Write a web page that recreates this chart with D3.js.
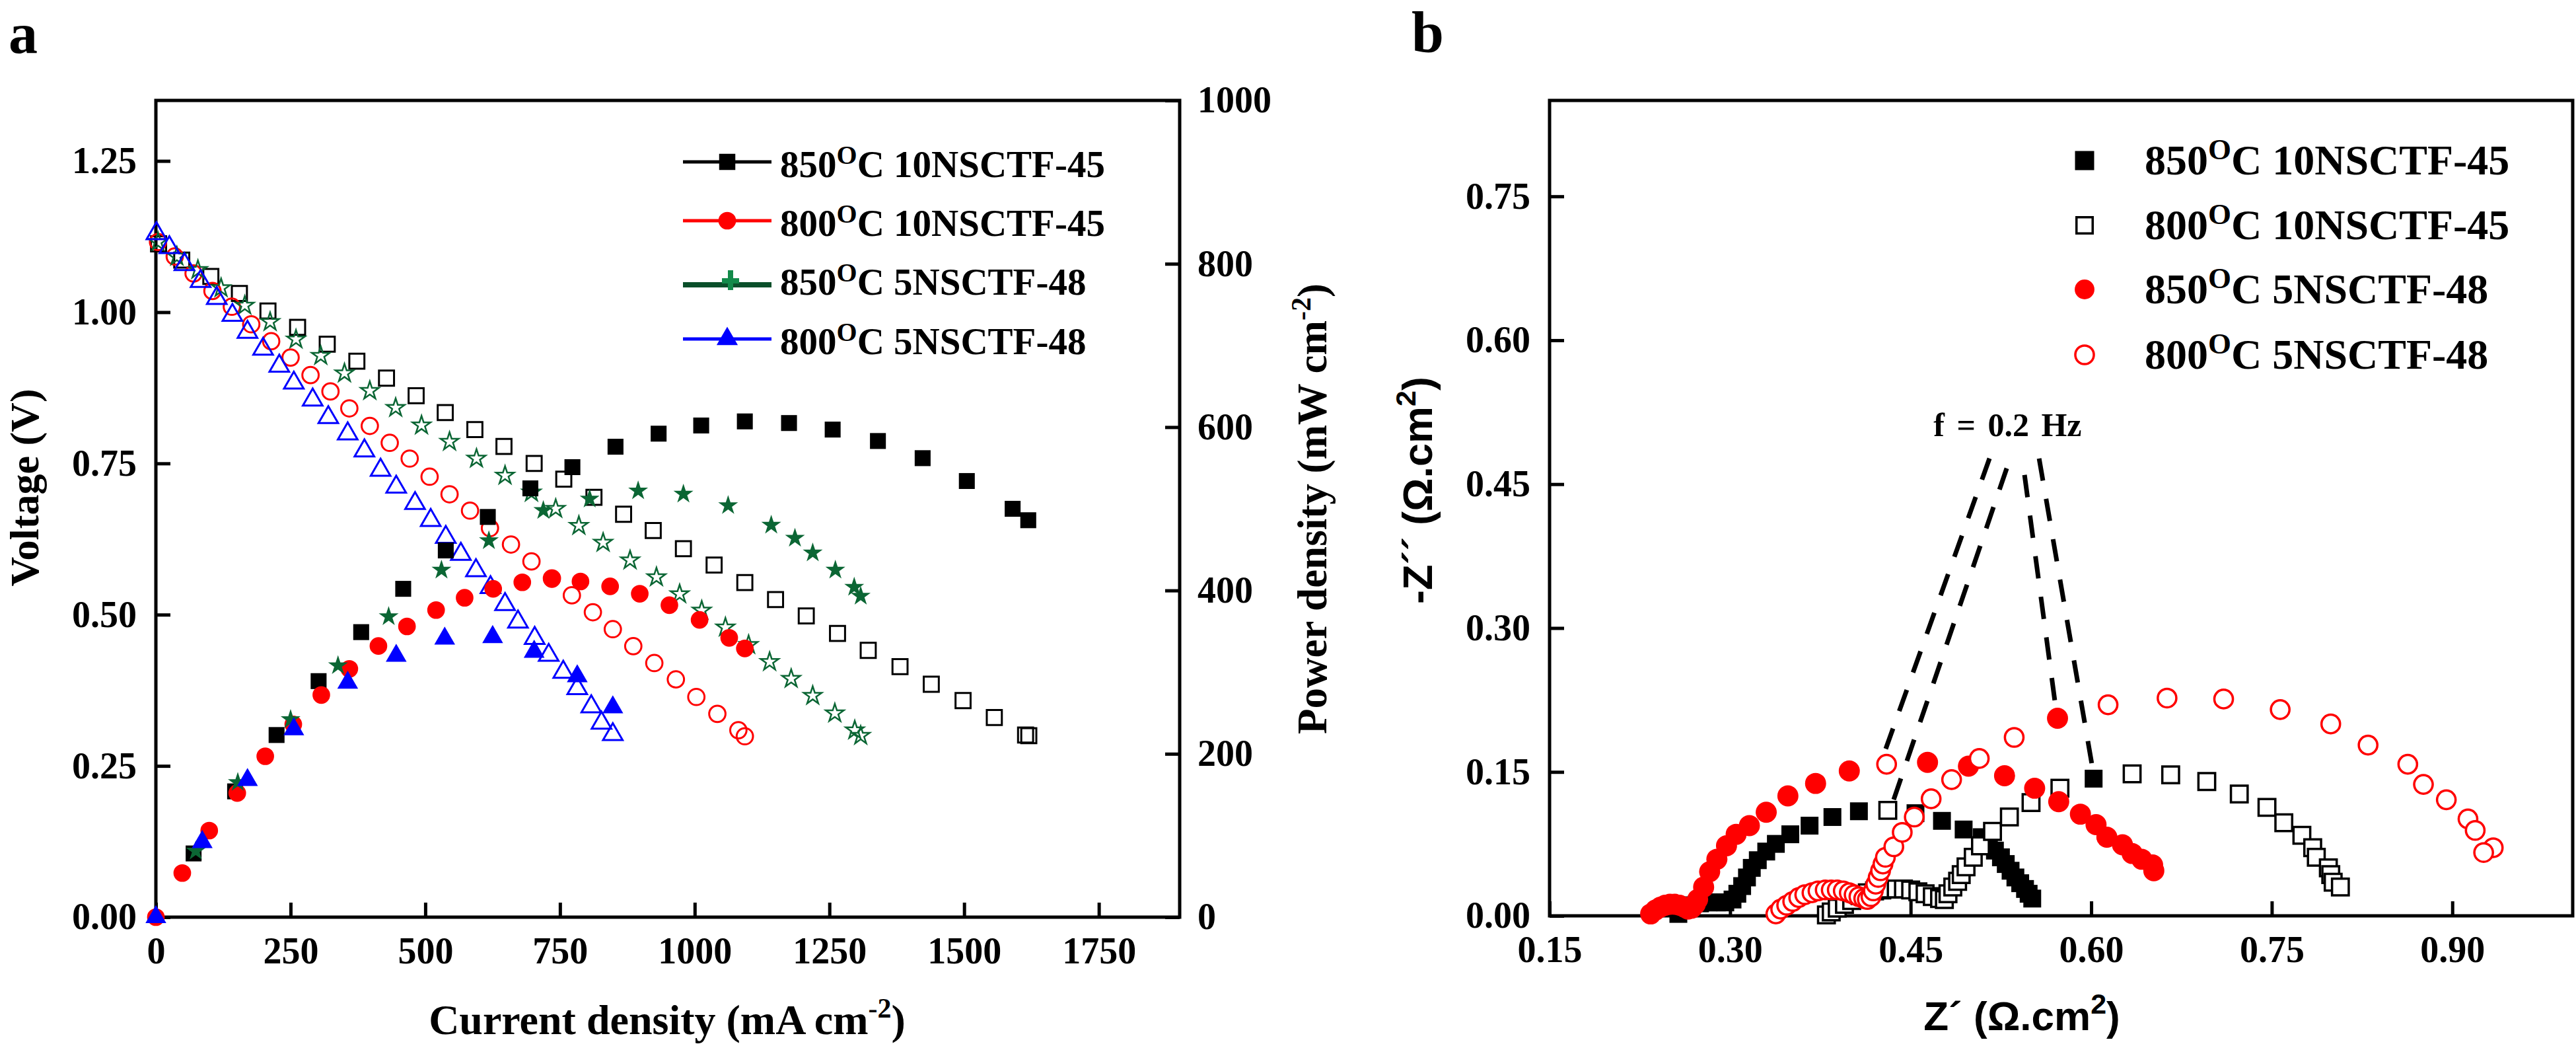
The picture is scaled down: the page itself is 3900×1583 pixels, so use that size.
<!DOCTYPE html>
<html><head><meta charset="utf-8">
<script src="https://cdn.jsdelivr.net/npm/d3@7"></script>
<style>
body{margin:0;background:#fff}
text{font-family:"Liberation Serif","Times New Roman",serif;font-weight:bold;fill:#000}
.sans{font-family:"Liberation Sans",Arial,sans-serif}
</style>
</head><body>
<svg id="c" width="3900" height="1583" xmlns="http://www.w3.org/2000/svg"></svg>
<script>
// ---------------- Panel a data: [current density mA/cm2, value] ----------------
const v850_10 = [[5,1.113],[48,1.086],[102,1.059],[155,1.031],[208,1.002],[263,0.975],[318,0.947],[373,0.919],[428,0.891],[483,0.862],[537,0.834],[592,0.806],[646,0.778],[702,0.750],[757,0.724],[813,0.694],[868,0.666],[923,0.639],[979,0.609],[1036,0.582],[1093,0.553],[1150,0.525],[1207,0.498],[1265,0.469],[1322,0.441],[1381,0.414],[1439,0.385],[1498,0.358],[1556,0.330],[1614,0.301],[1620,0.300]];
const p850_10 = [[70,78],[147,154],[224,223],[302,289],[381,349],[459,402],[538,449],[616,490],[695,525],[773,551],[853,576],[933,592],[1012,602],[1093,607],[1175,605],[1256,597],[1340,583],[1423,562],[1505,534],[1590,500],[1619,486]];
const v800_10 = [[4,1.116],[35,1.092],[70,1.064],[105,1.035],[141,1.009],[177,0.980],[214,0.952],[250,0.925],[287,0.896],[324,0.869],[359,0.841],[397,0.812],[434,0.784],[471,0.758],[508,0.728],[545,0.699],[583,0.672],[620,0.643],[659,0.616],[697,0.588],[735,0.560],[772,0.532],[811,0.504],[848,0.476],[886,0.448],[925,0.420],[965,0.393],[1003,0.364],[1042,0.336],[1081,0.309],[1093,0.299]];
const p800_10 = [[0,0],[49,54],[99,106],[151,152],[203,197],[255,236],[307,272],[359,304],[413,332],[466,356],[520,376],[573,391],[626,402],[680,410],[735,414],[788,411],[843,405],[898,396],[953,382],[1009,364],[1064,342],[1093,329]];
const v850_5 = [[4,1.116],[39,1.092],[78,1.070],[121,1.040],[165,1.011],[212,0.984],[260,0.955],[306,0.928],[350,0.899],[397,0.870],[445,0.842],[493,0.813],[545,0.786],[595,0.758],[648,0.730],[697,0.702],[742,0.675],[785,0.647],[830,0.619],[880,0.590],[929,0.562],[972,0.534],[1013,0.507],[1057,0.479],[1100,0.450],[1139,0.422],[1179,0.394],[1219,0.366],[1260,0.337],[1297,0.309],[1308,0.300]];
const p850_5 = [[74,81],[152,165],[250,242],[338,308],[432,368],[530,425],[618,461],[719,498],[805,512],[895,522],[979,518],[1062,504],[1142,480],[1186,464],[1219,446],[1261,425],[1296,404],[1308,393]];
const v800_5 = [[1,1.130],[25,1.107],[53,1.079],[83,1.051],[113,1.023],[142,0.995],[170,0.967],[199,0.939],[229,0.911],[256,0.883],[291,0.855],[320,0.826],[356,0.799],[387,0.771],[417,0.739],[446,0.711],[481,0.684],[510,0.656],[538,0.628],[566,0.600],[594,0.573],[621,0.545],[648,0.517],[672,0.488],[703,0.461],[729,0.433],[756,0.405],[782,0.378],[808,0.348],[827,0.321],[848,0.302]];
const p800_5 = [[0,0],[86,92],[170,168],[256,230],[356,287],[446,320],[536,341],[625,343],[702,325],[782,295],[848,257]];

const tempsA = ["850","800","850","800"];
const samplesA = ["10NSCTF-45","10NSCTF-45","5NSCTF-48","5NSCTF-48"];
const tickV = [0,0.25,0.5,0.75,1.0,1.25];
const tickI = [0,250,500,750,1000,1250,1500,1750];
const tickP = [0,200,400,600,800,1000];

// ---------------- Panel b data: [Z', -Z''] ----------------
const b850_10 = [[0.257,0.002],[0.262,0.007],[0.268,0.011],[0.275,0.013],[0.282,0.014],[0.289,0.014],[0.296,0.014],[0.302,0.017],[0.306,0.023],[0.310,0.031],[0.314,0.040],[0.318,0.050],[0.323,0.058],[0.330,0.067],[0.338,0.075],[0.350,0.085],[0.366,0.094],[0.385,0.103],[0.407,0.109],[0.454,0.107],[0.476,0.099],[0.494,0.090],[0.509,0.082],[0.515,0.075],[0.520,0.068],[0.525,0.061],[0.529,0.054],[0.533,0.047],[0.537,0.040],[0.541,0.034],[0.545,0.028],[0.548,0.023],[0.551,0.018],[0.602,0.143]];
const b800_10 = [[0.380,0.001],[0.384,0.004],[0.389,0.008],[0.395,0.012],[0.401,0.016],[0.408,0.021],[0.414,0.024],[0.420,0.026],[0.426,0.027],[0.432,0.028],[0.438,0.028],[0.444,0.028],[0.450,0.027],[0.456,0.025],[0.462,0.023],[0.468,0.020],[0.474,0.018],[0.478,0.017],[0.481,0.023],[0.485,0.030],[0.489,0.036],[0.492,0.043],[0.496,0.051],[0.502,0.061],[0.508,0.073],[0.518,0.088],[0.532,0.103],[0.550,0.118],[0.574,0.133],[0.634,0.148],[0.666,0.147],[0.696,0.140],[0.723,0.127],[0.746,0.113],[0.760,0.097],[0.775,0.084],[0.784,0.071],[0.787,0.061],[0.797,0.050],[0.799,0.043],[0.801,0.035],[0.807,0.030],[0.431,0.110]];
const b850_5 = [[0.234,0.002],[0.238,0.006],[0.242,0.009],[0.246,0.011],[0.250,0.012],[0.254,0.012],[0.258,0.011],[0.262,0.009],[0.265,0.007],[0.268,0.008],[0.271,0.012],[0.273,0.017],[0.278,0.030],[0.283,0.046],[0.289,0.059],[0.297,0.073],[0.305,0.085],[0.316,0.094],[0.330,0.108],[0.348,0.125],[0.371,0.138],[0.399,0.151],[0.464,0.160],[0.498,0.156],[0.528,0.146],[0.553,0.133],[0.573,0.119],[0.591,0.106],[0.604,0.095],[0.613,0.082],[0.626,0.074],[0.634,0.065],[0.642,0.059],[0.651,0.053],[0.652,0.047],[0.572,0.206]];
const b800_5 = [[0.338,0.002],[0.342,0.007],[0.347,0.011],[0.352,0.015],[0.357,0.019],[0.362,0.022],[0.368,0.024],[0.373,0.026],[0.379,0.027],[0.384,0.027],[0.389,0.027],[0.394,0.026],[0.399,0.024],[0.403,0.022],[0.407,0.020],[0.411,0.018],[0.414,0.017],[0.417,0.020],[0.419,0.026],[0.421,0.033],[0.423,0.040],[0.425,0.047],[0.427,0.054],[0.429,0.061],[0.436,0.072],[0.443,0.087],[0.453,0.103],[0.467,0.122],[0.484,0.142],[0.507,0.164],[0.536,0.186],[0.614,0.220],[0.663,0.227],[0.710,0.226],[0.757,0.215],[0.799,0.200],[0.830,0.178],[0.863,0.158],[0.876,0.137],[0.895,0.121],[0.913,0.101],[0.919,0.089],[0.934,0.071],[0.926,0.066],[0.430,0.158]];
const dashLines = [[0.5155,0.4768,0.4293,0.1741],[0.5298,0.4665,0.4359,0.1211],[0.5446,0.4596,0.5699,0.2229],[0.5567,0.4768,0.6006,0.1576]];
const tickZr = [0.15,0.30,0.45,0.60,0.75,0.90];
const tickZi = [0,0.15,0.30,0.45,0.60,0.75];

// ---------------- drawing ----------------
const svg = d3.select("#c");
svg.append("rect").attr("width",3900).attr("height",1583).attr("fill","#fff");
const GREEN = "#0b6634", RED = "#ff0000", BLUE = "#0000ff";

const xA = d3.scaleLinear().domain([0,1900]).range([236,1786]);
const yV = d3.scaleLinear().domain([0,1.35]).range([1388,152]);
const yP = d3.scaleLinear().domain([0,1000]).range([1388,152]);
const xB = d3.scaleLinear().domain([0.15,1.0]).range([2346,3895]);
const yB = d3.scaleLinear().domain([0,0.85]).range([1386,152]);

function styleAxis(g){
  g.select(".domain").remove();
  g.attr("font-family",null).attr("font-size",56);
  g.selectAll(".tick line").attr("stroke","#000").attr("stroke-width",5);
  g.selectAll(".tick text").attr("fill","#000");
}
function frame(x,y){
  svg.append("rect").attr("x",x.range()[0]).attr("y",y.range()[1])
    .attr("width",x.range()[1]-x.range()[0]).attr("height",y.range()[0]-y.range()[1])
    .attr("fill","none").attr("stroke","#000").attr("stroke-width",5);
}
function pts(data,x,y,type,size,fill,stroke,sw){
  svg.append("g").selectAll("path").data(data).join("path")
    .attr("transform",d=>`translate(${x(d[0])},${y(d[1])})`)
    .attr("d",d3.symbol().type(type).size(size))
    .attr("fill",fill).attr("stroke",stroke).attr("stroke-width",sw);
}

// ---- Panel a axes ----
styleAxis(svg.append("g").attr("transform","translate(236,0)")
  .call(d3.axisLeft(yV).tickValues(tickV).tickFormat(d3.format(".2f")).tickSize(-22).tickPadding(29)));
styleAxis(svg.append("g").attr("transform","translate(1786,0)")
  .call(d3.axisRight(yP).tickValues(tickP).tickFormat(d3.format("d")).tickSize(-22).tickPadding(27)));
styleAxis(svg.append("g").attr("transform","translate(0,1388)")
  .call(d3.axisBottom(xA).tickValues(tickI).tickFormat(d3.format("d")).tickSize(-22).tickPadding(30)));
frame(xA,yV);

// ---- Panel a points ----
pts(v850_10,xA,yV,d3.symbolSquare,520,"none","#000",3);
pts(v800_10,xA,yV,d3.symbolCircle,480,"none",RED,3);
pts(v850_5,xA,yV,d3.symbolStar,230,"none",GREEN,2.5);
pts(v800_5,xA,yV,d3.symbolTriangle,380,"none",BLUE,3);
pts(p850_10,xA,yP,d3.symbolSquare,580,"#000","none",0);
pts(p800_10,xA,yP,d3.symbolCircle,560,RED,"none",0);
pts(p850_5,xA,yP,d3.symbolStar,280,GREEN,"none",0);
pts(p800_5,xA,yP,d3.symbolTriangle,430,BLUE,"none",0);

// ---- Panel a legend ----
const legA = [
  {c:"#000",sym:d3.symbolSquare,size:600,y:247,ly:245},
  {c:RED,sym:d3.symbolCircle,size:560,y:336,ly:334},
  {c:"#0a4f2a",sym:null,size:0,y:425,ly:431},
  {c:BLUE,sym:d3.symbolTriangle,size:450,y:515,ly:513}
];
legA.forEach((L,i)=>{
  svg.append("line").attr("x1",1034).attr("x2",1168).attr("y1",L.ly).attr("y2",L.ly)
    .attr("stroke",L.c).attr("stroke-width",i===2?8:5);
  if(L.sym){
    svg.append("path").attr("transform",`translate(1101,${L.y-2})`)
      .attr("d",d3.symbol().type(L.sym).size(L.size)).attr("fill",L.c);
  } else {
    svg.append("path").attr("transform",`translate(1106,${L.y})`)
      .attr("d","M-4,-16h8v12h9v8h-9v10h-8v-10h-9v-8h9z").attr("fill","#138a4a");
  }
  const t = svg.append("text").attr("x",1181).attr("y",L.y+21).attr("font-size",57);
  t.append("tspan").text(tempsA[i]);
  t.append("tspan").attr("dy",-20).attr("font-size",40).text("O");
  t.append("tspan").attr("dy",20).text("C " + samplesA[i]);
});

// ---- Panel a titles ----
svg.append("text").attr("font-size",62).attr("text-anchor","middle")
  .attr("transform","translate(58,738) rotate(-90)").text("Voltage (V)");
{
  const t = svg.append("text").attr("font-size",63).attr("text-anchor","middle")
    .attr("transform","translate(2008,770) rotate(-90)");
  t.append("tspan").text("Power density (mW cm");
  t.append("tspan").attr("dy",-24).attr("font-size",42).text("-2");
  t.append("tspan").attr("dy",24).text(")");
}
{
  const t = svg.append("text").attr("font-size",64).attr("text-anchor","middle")
    .attr("x",1010).attr("y",1565);
  t.append("tspan").text("Current density (mA cm");
  t.append("tspan").attr("dy",-25).attr("font-size",42).text("-2");
  t.append("tspan").attr("dy",25).text(")");
}
svg.append("text").attr("x",13).attr("y",80).attr("font-size",88).text("a");

// ---- Panel b axes ----
styleAxis(svg.append("g").attr("transform","translate(2346,0)")
  .call(d3.axisLeft(yB).tickValues(tickZi).tickFormat(d3.format(".2f")).tickSize(-22).tickPadding(29)));
styleAxis(svg.append("g").attr("transform","translate(0,1386)")
  .call(d3.axisBottom(xB).tickValues(tickZr).tickFormat(d3.format(".2f")).tickSize(-22).tickPadding(30)));
frame(xB,yB);

// ---- Panel b dashed lines ----
svg.append("g").selectAll("line").data(dashLines).join("line")
  .attr("x1",d=>xB(d[0])).attr("y1",d=>yB(d[1])).attr("x2",d=>xB(d[2])).attr("y2",d=>yB(d[3]))
  .attr("stroke","#000").attr("stroke-width",7).attr("stroke-dasharray","34,28");
svg.append("text").attr("x",xB(0.469)).attr("y",yB(0.50)).attr("font-size",50)
  .attr("word-spacing",6).text("f = 0.2 Hz");

// ---- Panel b points ----
pts(b850_10,xB,yB,d3.symbolSquare,729,"#000","none",0);
pts(b800_10,xB,yB,d3.symbolSquare,640,"#fff","#000",3.5);
pts(b850_5,xB,yB,d3.symbolCircle,800,RED,"none",0);
pts(b800_5,xB,yB,d3.symbolCircle,620,"#fff",RED,3.5);

// ---- Panel b legend ----
const tempsB = ["850","800","850","800"];
const samplesB = ["10NSCTF-45","10NSCTF-45","5NSCTF-48","5NSCTF-48"];
const legB = [
  {sym:d3.symbolSquare,size:840,fill:"#000",stroke:"none",y:243},
  {sym:d3.symbolSquare,size:600,fill:"#fff",stroke:"#000",y:341},
  {sym:d3.symbolCircle,size:700,fill:RED,stroke:"none",y:438},
  {sym:d3.symbolCircle,size:620,fill:"#fff",stroke:RED,y:537}
];
legB.forEach((L,i)=>{
  svg.append("path").attr("transform",`translate(3156,${L.y})`)
    .attr("d",d3.symbol().type(L.sym).size(L.size)).attr("fill",L.fill)
    .attr("stroke",L.stroke).attr("stroke-width",3.5);
  const t = svg.append("text").attr("x",3247).attr("y",L.y+21).attr("font-size",64);
  t.append("tspan").text(tempsB[i]);
  t.append("tspan").attr("dy",-23).attr("font-size",45).text("O");
  t.append("tspan").attr("dy",23).text("C " + samplesB[i]);
});

// ---- Panel b titles ----
{
  const t = svg.append("text").attr("class","sans").attr("font-size",63).attr("text-anchor","middle")
    .attr("transform","translate(2168,742) rotate(-90)");
  t.append("tspan").text("-Z\u00B4\u00B4 (\u03A9.cm");
  t.append("tspan").attr("dy",-25).attr("font-size",43).text("2");
  t.append("tspan").attr("dy",25).text(")");
}
{
  const t = svg.append("text").attr("class","sans").attr("font-size",62).attr("text-anchor","middle")
    .attr("x",3061).attr("y",1559);
  t.append("tspan").text("Z\u00B4 (\u03A9.cm");
  t.append("tspan").attr("dy",-25).attr("font-size",43).text("2");
  t.append("tspan").attr("dy",25).text(")");
}
svg.append("text").attr("x",2137).attr("y",79).attr("font-size",88).text("b");
</script>
</body></html>
